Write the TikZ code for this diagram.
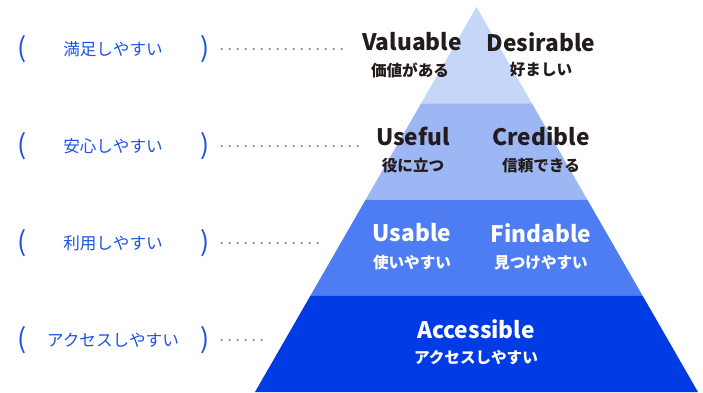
\documentclass[tikz,border=0pt]{standalone}
\usepackage{fontspec}
\setmainfont{Noto Sans CJK JP}
\usetikzlibrary{calc}
\definecolor{lvtop}{RGB}{197,214,248}
\definecolor{lvtwo}{RGB}{157,183,245}
\definecolor{lvthree}{RGB}{78,125,243}
\definecolor{lvbase}{RGB}{0,59,227}
\definecolor{ink}{RGB}{35,28,26}
\definecolor{tagblue}{RGB}{28,80,230}
\definecolor{dotgray}{RGB}{120,120,120}

\begin{document}
\begin{tikzpicture}[x=1pt,y=-1pt,
    en/.style={font=\bfseries\fontsize{22.7}{22.7}\selectfont,inner sep=0pt},
    ja/.style={font=\bfseries\fontsize{15.6}{15.6}\selectfont,inner sep=0pt},
    tag/.style={text=tagblue,font=\fontsize{16.6}{16.6}\selectfont,inner sep=0pt},
    paren/.style={text=tagblue,font=\fontsize{27}{27}\selectfont,inner sep=0pt},
    dots/.style={dotgray,line width=2.3pt,line cap=round,dash pattern=on 0pt off 8pt}]
    \useasboundingbox (0,0) rectangle (703,392);
    % pyramid
    \coordinate (apex) at (476.5,7);
    \coordinate (bl) at (255,392);
    \coordinate (br) at (698,392);
    \foreach \k/\f in {1/0.25,2/0.5,3/0.75}{
        \coordinate (l\k) at ($(apex)!\f!(bl)$);
        \coordinate (r\k) at ($(apex)!\f!(br)$);
    }
    \fill[lvtop] (apex) -- (l1) -- (r1) -- cycle;
    \fill[lvtwo] (l1) -- (l2) -- (r2) -- (r1) -- cycle;
    \fill[lvthree] (l2) -- (l3) -- (r3) -- (r2) -- cycle;
    \fill[lvbase] (l3) -- (bl) -- (br) -- (r3) -- cycle;
    % level texts
    \node[en,text=ink] (valuable) at (412,42) {Valuable};
    \node[ja,text=ink] (valuableja) at (410,70) {価値がある};
    \node[en,text=ink] (desirable) at (541,42) {Desirable};
    \node[ja,text=ink] (desirableja) at (541,70) {好ましい};
    \node[en,text=ink] (useful) at (413,136) {Useful};
    \node[ja,text=ink] (usefulja) at (413,166) {役に立つ};
    \node[en,text=ink] (credible) at (541,136) {Credible};
    \node[ja,text=ink] (credibleja) at (541,166) {信頼できる};
    \node[en,text=white] (usable) at (412,233) {Usable};
    \node[ja,text=white] (usableja) at (412,263) {使いやすい};
    \node[en,text=white] (findable) at (541,233) {Findable};
    \node[ja,text=white] (findableja) at (541,263) {見つけやすい};
    \node[en,text=white] (accessible) at (476,329) {Accessible};
    \node[ja,text=white] (accessibleja) at (476,358) {アクセスしやすい};
    % side tags
    \foreach \n/\y/\lab/\e in {1/49/満足しやすい/348,2/146/安心しやすい/358,3/243/利用しやすい/322,4/340/アクセスしやすい/265}{
        \node[paren] (lp\n) at (22,\y) {(};
        \node[tag] (tag\n) at (113,\y) {\lab};
        \node[paren] (rp\n) at (205,\y) {)};
        \coordinate (end\n) at (\e,\y);
        \draw[dots,shorten <=12pt] (rp\n.east) -- (end\n);
    }
\end{tikzpicture}
\end{document}
